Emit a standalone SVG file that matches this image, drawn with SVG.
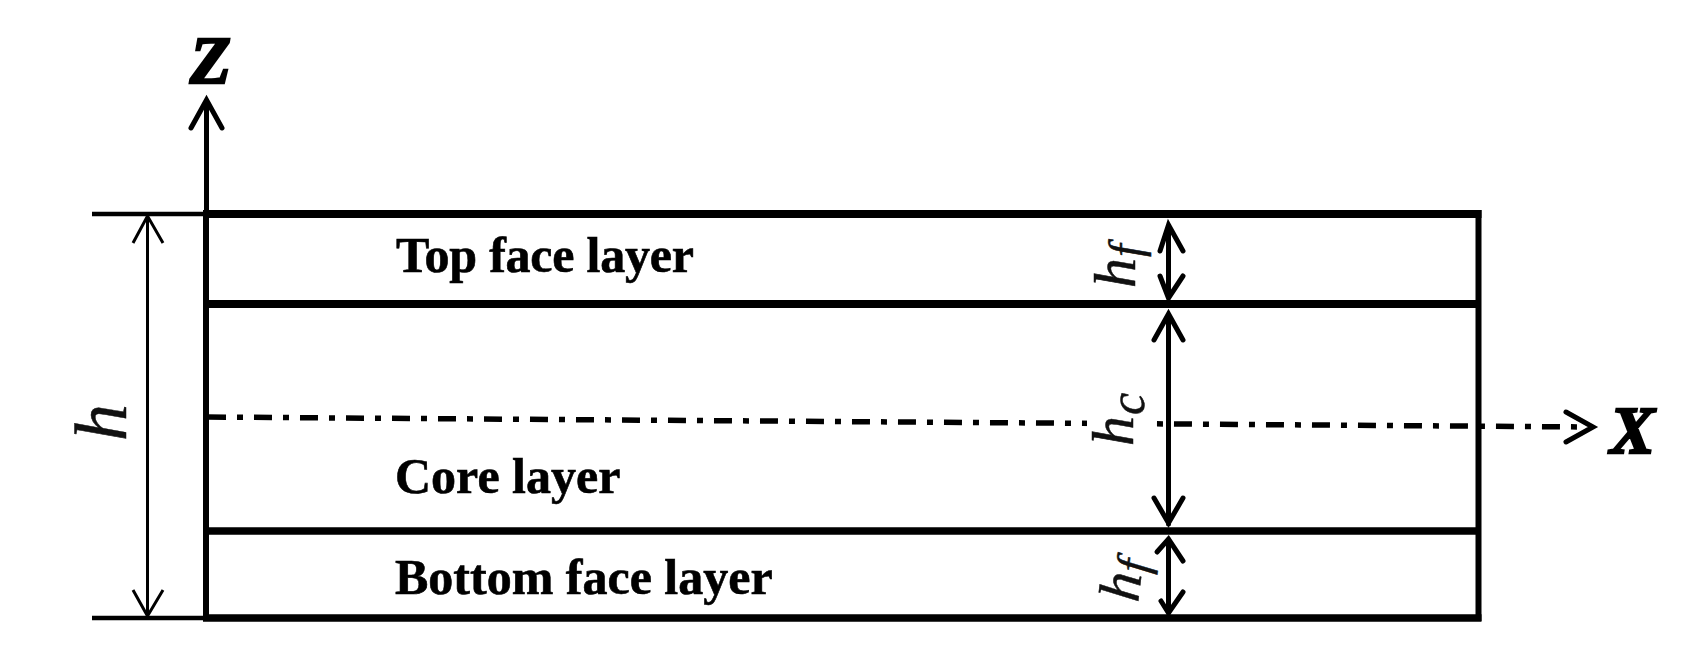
<svg xmlns="http://www.w3.org/2000/svg" width="1697" height="665" viewBox="0 0 1697 665">
<style>
.thick{fill:none;stroke:#000;stroke-width:7.500}
.arr{fill:none;stroke:#000;stroke-width:5;stroke-linecap:round;stroke-linejoin:miter}
.thin{fill:none;stroke:#000;stroke-width:3}
.ext{fill:none;stroke:#000;stroke-width:4.500}
.label{font-family:"Liberation Serif","Times New Roman",serif;font-weight:bold;font-size:50px;fill:#000;stroke:#000;stroke-width:.6}
.axis{font-family:"Liberation Serif","Times New Roman",serif;font-weight:bold;font-style:italic;font-size:67px;fill:#000;stroke:#000;stroke-width:2.500}
.sym{font-family:"Liberation Serif","Times New Roman",serif;font-style:italic;fill:#111;stroke:#111;stroke-width:.5}
</style>
<rect width="1697" height="665" fill="#fff"/>
<g id="connectors">
<path class="arr" d="M206.500 212V101"/>
<path class="arr" d="M191 128L206.500 100L222 128"/>
<path class="ext" d="M92 214H206M92 618H206"/>
<path class="thin" d="M147.500 215V616"/>
<path class="thin" d="M133 243L147.500 216L163 243M133 590L147.500 616L163 590"/>
<path class="arr" stroke-dasharray="18 11 6 11" style="stroke-linecap:butt;stroke-width:5.500" d="M208 417L1590 427"/>
<path class="arr" d="M1566 412L1593 427L1566 442"/>
<path class="arr" d="M1168.500 226V298M1160 251L1168.500 225L1183 251M1160 276L1168.500 298L1183 276"/>
<path class="arr" d="M1168.500 314V524M1154 340L1168.500 314L1183 340M1154 498L1168.500 523L1183 498"/>
<path class="arr" d="M1168.500 539V613M1157 552L1168.500 539L1183 561M1161 601L1168.500 613L1183 592"/>
</g>
<g id="layers">
<path class="thick" style="stroke-width:8" d="M203 214H1481.500"/>
<path class="thick" style="stroke-width:8" d="M206 304H1478"/>
<path class="thick" d="M206 531H1478M203 618H1481.500"/>
<path class="thick" style="stroke-width:6" d="M206 211V621M1478.500 210V621"/>
</g>
<g id="top-face-layer"><text class="label" x="396" y="272" textLength="298">Top face layer</text></g>
<g id="core-layer"><text class="label" x="395" y="493">Core layer</text></g>
<g id="bottom-face-layer"><text class="label" x="395" y="594">Bottom face layer</text></g>
<g id="axis-z"><text class="axis" x="190" y="83">Z</text></g>
<g id="axis-x"><text class="axis" x="1610" y="453">X</text></g>
<g id="dim-h"><text class="sym" font-size="74" transform="translate(126,441) rotate(-90)">h</text></g>
<g id="dim-hf-top"><text class="sym" font-size="60" transform="translate(1135,288) rotate(-90)">h<tspan font-size="46" dx="1" dy="6">f</tspan></text></g>
<g id="dim-hc"><rect x="1087" y="395" width="65" height="55" fill="#fff"/><text class="sym" font-size="60" transform="translate(1133,446) rotate(-90)">h<tspan font-size="50" dx="1" dy="11">c</tspan></text></g>
<g id="dim-hf-bottom"><text class="sym" font-size="58" transform="translate(1138,603) rotate(-83)">h<tspan font-size="46" dx="1" dy="6">f</tspan></text></g>
</svg>
